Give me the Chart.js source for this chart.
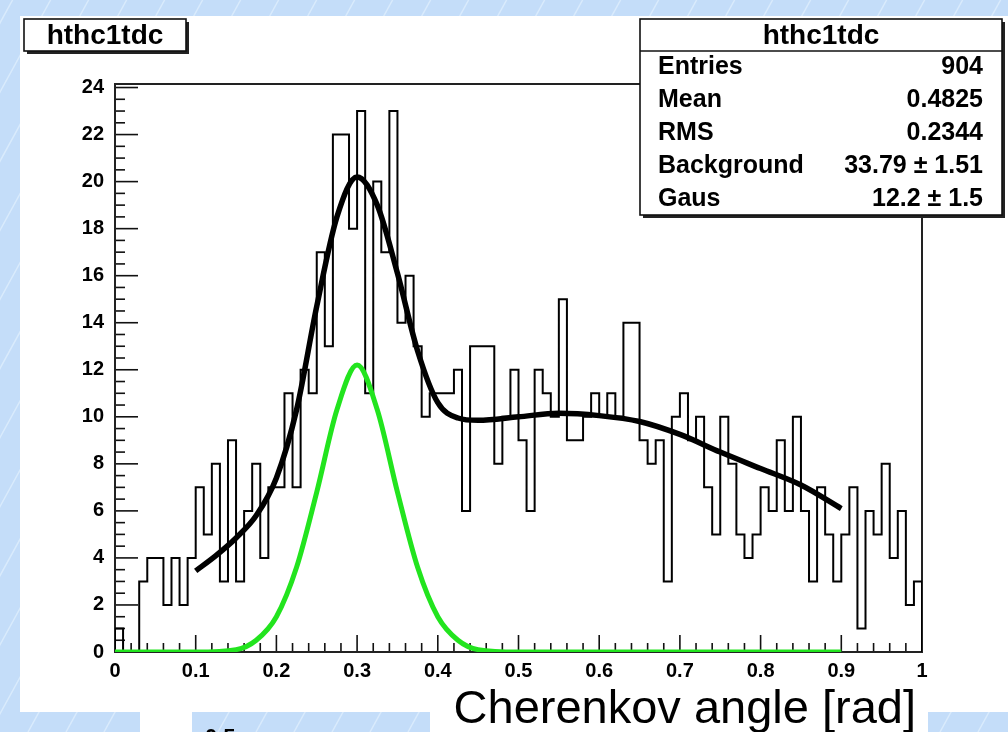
<!DOCTYPE html>
<html><head><meta charset="utf-8">
<script src="https://cdn.jsdelivr.net/npm/chart.js@4.4.1/dist/chart.umd.min.js"></script>
<style>html,body{margin:0;padding:0;background:#fff;overflow:hidden}#wrap{width:1008px;height:732px;position:relative}</style>
</head><body><div id="wrap"><canvas id="c" width="1008" height="732"></canvas></div>
<script>
// ---- data ----
const histTitle = "hthc1tdc";
const xAxisTitle = "Cherenkov angle [rad]";
const binLow = 0, binHigh = 1;
const counts = [
  1, 0, 0, 3, 4, 4, 2, 4, 2, 4,
  7, 5, 8, 3, 9, 3, 6, 8, 4, 7,
  7, 11, 7, 12, 11, 17, 13, 22, 22, 18,
  23, 11, 20, 17, 23, 14, 16, 13, 10, 11,
  11, 11, 12, 6, 13, 13, 13, 8, 10, 12,
  9, 6, 12, 11, 10, 15, 9, 9, 10, 11,
  10, 11, 10, 14, 14, 9, 8, 9, 3, 10,
  11, 9, 10, 7, 5, 10, 8, 5, 4, 5,
  7, 6, 9, 6, 10, 6, 3, 7, 5, 3,
  5, 7, 1, 6, 5, 8, 4, 6, 2, 3
];
const fitX = [0.10, 0.125, 0.15, 0.175, 0.20, 0.225, 0.25, 0.275, 0.30, 0.325, 0.35, 0.375, 0.40, 0.425, 0.45, 0.50, 0.55, 0.60, 0.65, 0.70, 0.75, 0.80, 0.85, 0.90];
const fitY = [3.45, 4.1, 4.85, 5.8, 7.4, 10.3, 14.7, 18.5, 20.2, 19.0, 16.1, 12.8, 10.6, 9.95, 9.85, 10.0, 10.15, 10.05, 9.8, 9.25, 8.5, 7.8, 7.1, 6.1];
const gausX = [0, 0.10, 0.15, 0.175, 0.20, 0.225, 0.25, 0.275, 0.30, 0.325, 0.35, 0.375, 0.40, 0.425, 0.45, 0.50, 0.90];
const gausY = [0, 0, 0.1, 0.5, 1.5, 3.6, 6.8, 10.3, 12.2, 10.3, 6.8, 3.6, 1.5, 0.5, 0.1, 0, 0];
const xTickVals = [0, 0.1, 0.2, 0.3, 0.4, 0.5, 0.6, 0.7, 0.8, 0.9, 1];
const xTickLabels = ["0", "0.1", "0.2", "0.3", "0.4", "0.5", "0.6", "0.7", "0.8", "0.9", "1"];
const yTickVals = [0, 2, 4, 6, 8, 10, 12, 14, 16, 18, 20, 22, 24];
const yTickLabels = ["0", "2", "4", "6", "8", "10", "12", "14", "16", "18", "20", "22", "24"];
const yMax = 24.15;
const statLabels = ["Entries", "Mean", "RMS", "Background", "Gaus"];
const statValues = ["904", "0.4825", "0.2344", "33.79 \u00b1 1.51", "12.2 \u00b1 1.5"];

// ---- build tables for the library ----
const binW = (binHigh - binLow) / counts.length;
const histPts = [{x: binLow, y: 0}];
counts.forEach((c, i) => histPts.push({x: binLow + i * binW, y: c}));
histPts.push({x: binHigh, y: counts[counts.length - 1]});
histPts.push({x: binHigh, y: 0});
const fitPts = fitX.map((x, i) => ({x, y: fitY[i]}));
const gausPts = gausX.map((x, i) => ({x, y: gausY[i]}));

const FONT = "'Liberation Sans', Arial, Helvetica, sans-serif";

const decor = {
  id: 'decor',
  beforeDraw(chart) {
    const ctx = chart.ctx, W = chart.width, H = chart.height;
    ctx.save();
    ctx.fillStyle = '#c4ddf9';
    ctx.fillRect(0, 0, W, H);
    ctx.strokeStyle = 'rgba(235,245,255,0.55)';
    ctx.lineWidth = 1.5;
    for (let k = -H; k < W + H; k += 38) {
      ctx.beginPath(); ctx.moveTo(k, H); ctx.lineTo(k + H * 0.55, 0); ctx.stroke();
    }
    ctx.fillStyle = '#ffffff';
    ctx.fillRect(20, 16, W - 20, 696);
    ctx.fillRect(140, 712, 52, 20);
    ctx.fillRect(430, 712, 498, 20);
    ctx.fillStyle = '#000';
    ctx.font = 'bold 22px ' + FONT;
    ctx.textBaseline = 'alphabetic';
    ctx.fillText('0.5', 205, 744);
    ctx.restore();
  },
  beforeDatasetsDraw(chart) {
    const ctx = chart.ctx, a = chart.chartArea;
    const xs = chart.scales.x, ys = chart.scales.y;
    ctx.save();
    ctx.strokeStyle = '#111';
    ctx.lineWidth = 1.6;
    for (let i = 0; i < xTickVals.length; i++) {
      const p = xs.getPixelForValue(xTickVals[i]);
      ctx.beginPath(); ctx.moveTo(p, a.bottom); ctx.lineTo(p, a.bottom - 17); ctx.stroke();
      if (i < xTickVals.length - 1) {
        const step = (xTickVals[i + 1] - xTickVals[i]) / 5;
        for (let k = 1; k < 5; k++) {
          const q = xs.getPixelForValue(xTickVals[i] + k * step);
          ctx.beginPath(); ctx.moveTo(q, a.bottom); ctx.lineTo(q, a.bottom - 9); ctx.stroke();
        }
      }
    }
    for (let i = 0; i < yTickVals.length; i++) {
      const p = ys.getPixelForValue(yTickVals[i]);
      ctx.beginPath(); ctx.moveTo(a.left, p); ctx.lineTo(a.left + 23, p); ctx.stroke();
      const step = 0.5;
      for (let k = 1; k < 4; k++) {
        const v = yTickVals[i] + k * step;
        if (v > yMax) break;
        const q = ys.getPixelForValue(v);
        ctx.beginPath(); ctx.moveTo(a.left, q); ctx.lineTo(a.left + 10, q); ctx.stroke();
      }
    }
    ctx.lineWidth = 2;
    ctx.strokeStyle = '#222';
    ctx.strokeRect(a.left, a.top, a.right - a.left, a.bottom - a.top);
    ctx.restore();
  },
  afterDraw(chart) {
    const ctx = chart.ctx;
    ctx.save();
    // title box
    const tL = 24, tT = 19, tR = 186, tB = 51;
    ctx.fillStyle = '#222';
    ctx.fillRect(tL + 3, tT + 3, tR - tL, tB - tT);
    ctx.fillStyle = '#fff';
    ctx.fillRect(tL, tT, tR - tL, tB - tT);
    ctx.strokeStyle = '#111'; ctx.lineWidth = 1.6;
    ctx.strokeRect(tL, tT, tR - tL, tB - tT);
    ctx.fillStyle = '#000';
    ctx.font = 'bold 28px ' + FONT;
    ctx.textAlign = 'center'; ctx.textBaseline = 'middle';
    ctx.fillText(histTitle, (tL + tR) / 2, 36);
    // stats box
    const L = 640, T = 19, R = 1002, B = 215;
    ctx.fillStyle = '#222';
    ctx.fillRect(L + 3, T + 3, R - L, B - T);
    ctx.fillStyle = '#fff';
    ctx.fillRect(L, T, R - L, B - T);
    ctx.strokeStyle = '#111'; ctx.lineWidth = 1.6;
    ctx.strokeRect(L, T, R - L, B - T);
    ctx.beginPath(); ctx.moveTo(L, 51); ctx.lineTo(R, 51); ctx.stroke();
    ctx.fillStyle = '#000';
    ctx.font = 'bold 28px ' + FONT;
    ctx.textAlign = 'center';
    ctx.fillText(histTitle, (L + R) / 2, 36);
    ctx.font = 'bold 25px ' + FONT;
    statLabels.forEach((s, i) => {
      const y = 67 + i * 33;
      ctx.textAlign = 'left'; ctx.fillText(s, 658, y);
      ctx.textAlign = 'right'; ctx.fillText(statValues[i], 983, y);
    });
    // axis title
    ctx.font = '47px ' + FONT;
    ctx.textAlign = 'right'; ctx.textBaseline = 'alphabetic';
    ctx.fillText(xAxisTitle, 916, 723);
    ctx.restore();
  }
};

new Chart(document.getElementById('c'), {
  type: 'line',
  data: {
    datasets: [
      {label: 'fit', data: fitPts, borderColor: '#000', borderWidth: 5.5, pointRadius: 0, cubicInterpolationMode: 'monotone', fill: false, borderCapStyle: 'butt'},
      {label: 'gaus', data: gausPts, borderColor: '#22e41e', borderWidth: 5, pointRadius: 0, cubicInterpolationMode: 'monotone', fill: false},
      {label: 'hist', data: histPts, borderColor: '#000', borderWidth: 2, pointRadius: 0, stepped: true, fill: false}
    ]
  },
  options: {
    responsive: false,
    animation: false,
    devicePixelRatio: 1,
    layout: {padding: {left: 0, top: 84, right: 86, bottom: 0}},
    plugins: {legend: {display: false}, tooltip: {enabled: false}, title: {display: false}},
    scales: {
      x: {
        type: 'linear', min: binLow, max: binHigh,
        grid: {display: false, drawTicks: false}, border: {display: false},
        afterBuildTicks: s => { s.ticks = xTickVals.map(v => ({value: v})); },
        afterFit: s => { s.height = 80; },
        ticks: {
          padding: 7, color: '#000', maxRotation: 0, autoSkip: false,
          font: {family: FONT, size: 20, weight: 'bold'},
          callback: (v, i) => xTickLabels[i]
        }
      },
      y: {
        type: 'linear', min: 0, max: yMax,
        grid: {display: false, drawTicks: false}, border: {display: false},
        afterBuildTicks: s => { s.ticks = yTickVals.map(v => ({value: v})); },
        afterFit: s => { s.width = 115; },
        ticks: {
          padding: 11, color: '#000', autoSkip: false,
          font: {family: FONT, size: 20, weight: 'bold'},
          callback: (v, i) => yTickLabels[i]
        }
      }
    }
  },
  plugins: [decor]
});
</script></body></html>
